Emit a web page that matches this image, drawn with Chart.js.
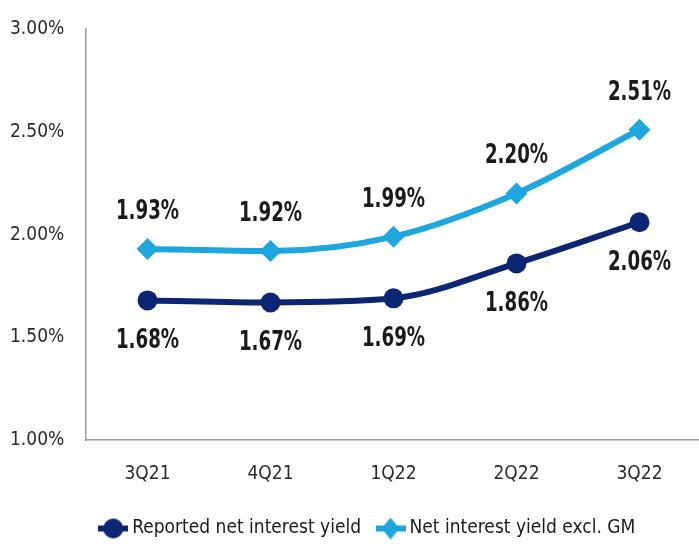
<!DOCTYPE html>
<html lang="en">
<head>
  <meta charset="UTF-8">
  <title>Net interest yield</title>
  <script src="https://cdn.jsdelivr.net/npm/chart.js"></script>
  <style>
    html, body { margin: 0; padding: 0; background: #fff; overflow: hidden; }
    #wrap { width: 712px; height: 544px; position: relative; }
  </style>
</head>
<body>
<div id="wrap">
  <canvas id="nim-chart"></canvas>
</div>

<script>
  // Data
  const quarters = ["3Q21", "4Q21", "1Q22", "2Q22", "3Q22"];
  const reported = [1.68, 1.67, 1.69, 1.86, 2.06];
  const exclGM = [1.93, 1.92, 1.99, 2.20, 2.51];
  const seriesNames = ["Reported net interest yield", "Net interest yield excl. GM"];

  const FONT = "'Liberation Sans Narrow', 'DejaVu Sans Condensed', 'Arial Narrow', sans-serif";
  const NAVY = "#0c2674";
  const SKY = "#1ea6df";

  // little line + marker icon for the legend
  function legendIcon(color, diamond) {
    const c = document.createElement("canvas");
    c.width = 30; c.height = 22;
    const g = c.getContext("2d");
    g.strokeStyle = color;
    g.fillStyle = color;
    g.lineWidth = 6;
    g.beginPath(); g.moveTo(0, 11); g.lineTo(30, 11); g.stroke();
    g.beginPath();
    if (diamond) {
      g.moveTo(15, 0); g.lineTo(24, 11); g.lineTo(15, 22); g.lineTo(6, 11);
      g.closePath();
    } else {
      g.arc(15, 11, 10, 0, Math.PI * 2);
    }
    g.fill();
    return c;
  }
  const icons = [legendIcon(NAVY, false), legendIcon(SKY, true)];

  // Value labels: above the light line, below the dark one
  // (stretched a bit to get the tall condensed look of the original)
  const valueLabels = {
    id: "valueLabels",
    afterDatasetsDraw(chart) {
      const ctx = chart.ctx;
      chart.data.datasets.forEach((ds, i) => {
        const meta = chart.getDatasetMeta(i);
        meta.data.forEach((pt, j) => {
          const off = i === 0 ? 41 : -37;
          ctx.save();
          ctx.translate(pt.x, pt.y + off);
          ctx.scale(0.92, 1.22);
          ctx.font = "bold 22px " + FONT;
          ctx.fillStyle = "#1a1a1a";
          ctx.textAlign = "center";
          ctx.textBaseline = "middle";
          ctx.fillText(ds.data[j].toFixed(2) + "%", 0, 0);
          ctx.restore();
        });
      });
    }
  };

  new Chart(document.getElementById("nim-chart"), {
    type: "line",
    data: {
      labels: quarters,
      datasets: [
        {
          label: seriesNames[0],
          data: reported,
          borderColor: NAVY,
          backgroundColor: NAVY,
          borderWidth: 6,
          pointStyle: "circle",
          pointRadius: 10,
          pointBorderWidth: 0,
          pointHoverRadius: 10,
          cubicInterpolationMode: "monotone"
        },
        {
          label: seriesNames[1],
          data: exclGM,
          borderColor: SKY,
          backgroundColor: SKY,
          borderWidth: 6,
          pointStyle: "rectRot",
          pointRadius: 11,
          pointBorderWidth: 0,
          pointHoverRadius: 11,
          cubicInterpolationMode: "monotone"
        }
      ]
    },
    options: {
      responsive: true,
      maintainAspectRatio: false,
      animation: false,
      layout: { padding: { left: 10, top: 29, right: -17, bottom: -4 } },
      plugins: {
        tooltip: { enabled: false },
        legend: {
          position: "bottom",
          labels: {
            usePointStyle: true,
            padding: 20,
            color: "#1a1a1a",
            font: { family: FONT, size: 19 },
            generateLabels(chart) {
              const items = Chart.defaults.plugins.legend.labels.generateLabels(chart);
              items.forEach((it, i) => { it.pointStyle = icons[i]; });
              return items;
            }
          }
        }
      },
      scales: {
        x: {
          offset: true,
          grid: { display: false },
          border: { display: true, color: "#9a9a9a", width: 1.5 },
          ticks: { color: "#2a2a2a", padding: 14, font: { family: FONT, size: 19 } }
        },
        y: {
          min: 1.0,
          max: 3.0,
          grid: { display: false },
          border: { display: true, color: "#9a9a9a", width: 1.5 },
          afterFit(scale) { scale.width = 76; },
          ticks: {
            stepSize: 0.5,
            crossAlign: "far",
            color: "#2a2a2a",
            font: { family: FONT, size: 19 },
            callback: (v) => Number(v).toFixed(2) + "%"
          }
        }
      }
    },
    plugins: [valueLabels]
  });
</script>
</body>
</html>
